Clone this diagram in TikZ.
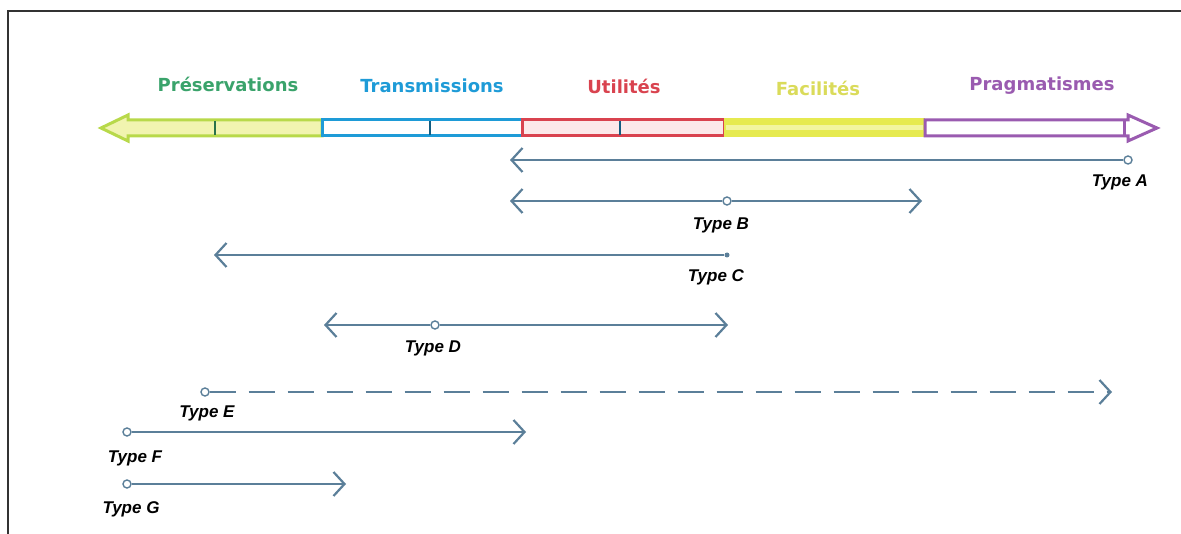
\documentclass[tikz,border=0pt]{standalone}
\usepackage{fontspec}
\setmainfont{DejaVu Sans}
\newfontfamily\labfont{Liberation Sans}
\usetikzlibrary{arrows.meta}
\definecolor{linec}{HTML}{5B7F99}
\definecolor{cgreen}{HTML}{3AA36B}
\definecolor{cgreenb}{HTML}{B8D94A}
\definecolor{cgreenf}{HTML}{F1F4B0}
\definecolor{cblue}{HTML}{1E9BD7}
\definecolor{cred}{HTML}{D9434F}
\definecolor{credf}{HTML}{FCE9EA}
\definecolor{cyel}{HTML}{E6EA50}
\definecolor{cyelf}{HTML}{F2F5A0}
\definecolor{cyelt}{HTML}{DADB5A}
\definecolor{cpurp}{HTML}{9A5BB0}
\definecolor{frame}{HTML}{333333}
\begin{document}
\begin{tikzpicture}[x=1pt,y=-1pt,
  conn/.style={draw=linec,line width=2.4pt},
  barbtip/.tip={Straight Barb[length=11pt,width=24pt,line width=2.2pt]},
  endpt/.style={circle,draw=linec,fill=white,inner sep=0pt,minimum size=8pt,line width=1.4pt},
  enddot/.style={circle,fill=linec,inner sep=0pt,minimum size=5pt},
  typelab/.style={font=\labfont\bfseries\itshape\fontsize{17}{17}\selectfont,text=black},
  catlab/.style={font=\bfseries\fontsize{18}{18}\selectfont}]
\useasboundingbox (0,0) rectangle (1181,534);
% frame
\draw[frame,line width=1.2pt] (1181,11) -- (8,11) -- (8,534);
% category labels
\node[catlab,text=cgreen] (lp) at (228,84) {Préservations};
\node[catlab,text=cblue] (lt) at (432,86) {Transmissions};
\node[catlab,text=cred] (lu) at (624,86) {Utilités};
\node[catlab,text=cyelt] (lf) at (818,88) {Facilités};
\node[catlab,text=cpurp] (lg) at (1042,86) {Pragmatismes};
% band: green with left arrow head
\draw[cgreenb,fill=cgreenf,line width=3pt,line join=miter]
  (322,120) -- (128,120) -- (128,115) -- (101,128) -- (128,141) -- (128,136) -- (322,136) -- cycle;
\draw[cgreen!70!black,line width=1.5pt] (215,121) -- (215,135);
% blue
\draw[cblue,fill=white,line width=3pt] (322,120) rectangle (522,136);
\draw[cblue!60!black,line width=1.5pt] (430,121) -- (430,135);
% red
\draw[cred,fill=credf,line width=3pt] (522,120) rectangle (724,136);
\draw[cblue!60!black,line width=1.2pt] (620,121) -- (620,135);
% yellow
\fill[cyel] (724,118.5) rectangle (925,137.5);
\fill[cyelf] (726,125) rectangle (923,130);
% purple with right arrow head
\draw[cpurp,fill=white,line width=3pt,line join=miter]
  (925,120) -- (1128,120) -- (1128,115) -- (1157,128) -- (1128,141) -- (1128,136) -- (925,136) -- cycle;
\draw[cpurp,line width=3pt] (1124,121) -- (1124,135);
% Type A
\node[endpt] (a1) at (1128,160) {};
\coordinate (a0) at (510,160);
\draw[conn,-barbtip] (a1) -- (a0);
\node[typelab] (la) at (1120,182) {Type A};
% Type B
\coordinate (b0) at (510,201);
\coordinate (b1) at (922,201);
\node[endpt] (bm) at (727,201) {};
\draw[conn,-barbtip] (bm) -- (b0);
\draw[conn,-barbtip] (bm) -- (b1);
\node[typelab] (lb) at (721,225) {Type B};
% Type C
\node[enddot] (c1) at (727,255) {};
\coordinate (c0) at (214,255);
\draw[conn,-barbtip] (c1) -- (c0);
\node[typelab] (lc) at (716,277) {Type C};
% Type D
\coordinate (d0) at (324,325);
\coordinate (d1) at (728,325);
\node[endpt] (dm) at (435,325) {};
\draw[conn,-barbtip] (dm) -- (d0);
\draw[conn,-barbtip] (dm) -- (d1);
\node[typelab] (ld) at (433,348) {Type D};
% Type E
\node[endpt] (e0) at (205,392) {};
\coordinate (e1) at (1112,392);
\draw[conn,-barbtip,dash pattern=on 26pt off 13pt] (e0) -- (e1);
\node[typelab] (le) at (207,413) {Type E};
% Type F
\node[endpt] (f0) at (127,432) {};
\coordinate (f1) at (526,432);
\draw[conn,-barbtip] (f0) -- (f1);
\node[typelab] (lf2) at (135,458) {Type F};
% Type G
\node[endpt] (g0) at (127,484) {};
\coordinate (g1) at (346,484);
\draw[conn,-barbtip] (g0) -- (g1);
\node[typelab] (lg2) at (131,509) {Type G};
\end{tikzpicture}
\end{document}
